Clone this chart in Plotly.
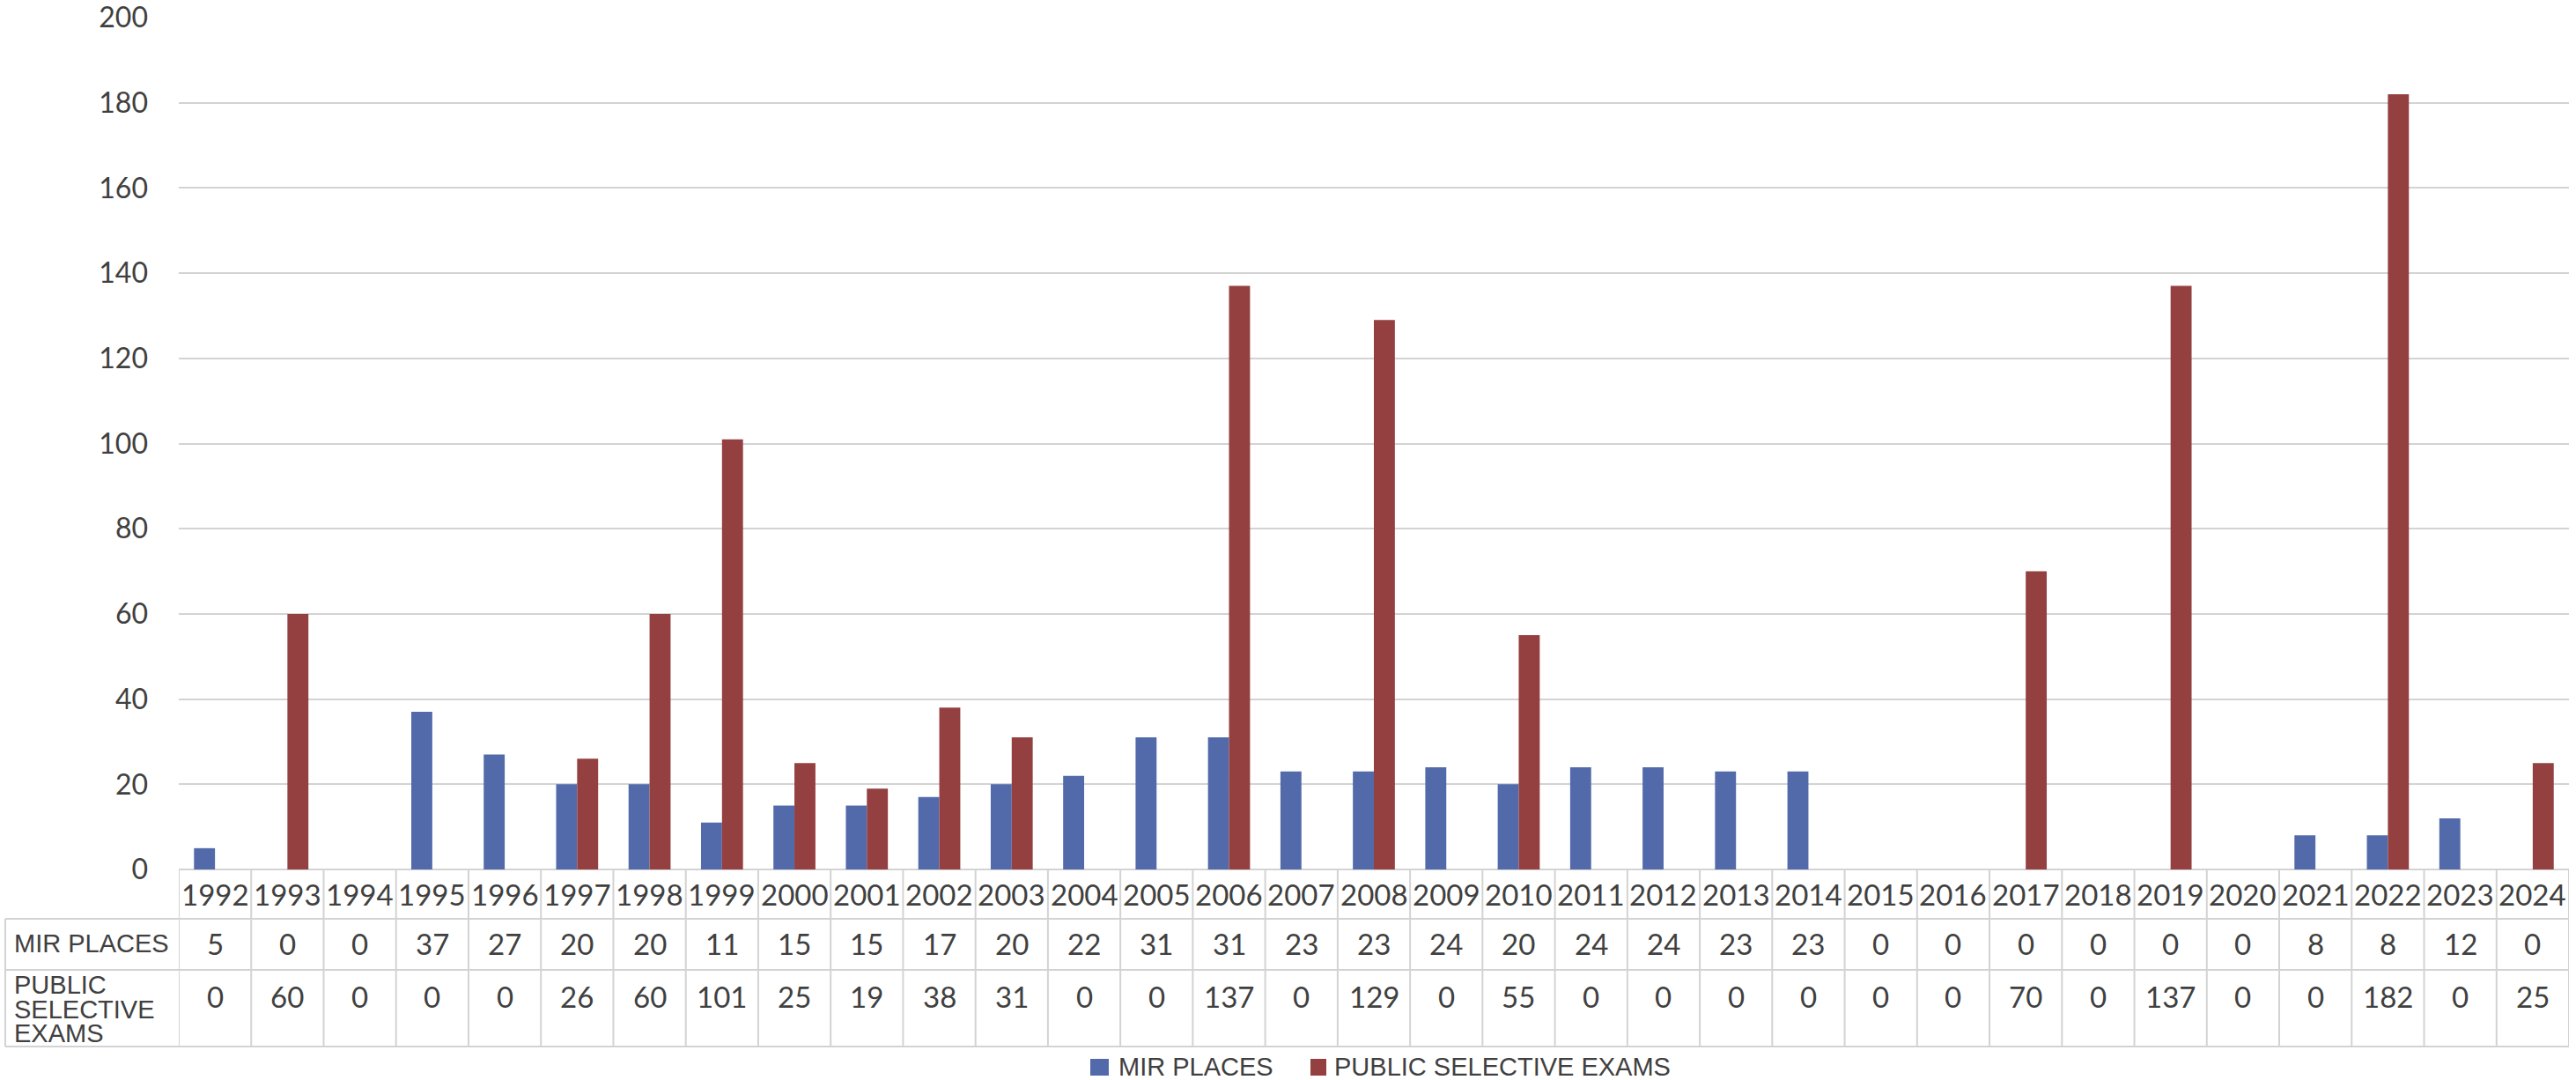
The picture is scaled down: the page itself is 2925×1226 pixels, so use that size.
import plotly.graph_objects as go

years = [str(y) for y in range(1992, 2025)]
mir_places = [5, 0, 0, 37, 27, 20, 20, 11, 15, 15, 17, 20, 22, 31, 31, 23, 23, 24, 20, 24, 24, 23, 23, 0, 0, 0, 0, 0, 0, 8, 8, 12, 0]
public_exams = [0, 60, 0, 0, 0, 26, 60, 101, 25, 19, 38, 31, 0, 0, 137, 0, 129, 0, 55, 0, 0, 0, 0, 0, 0, 70, 0, 137, 0, 0, 182, 0, 25]
series_names = ["MIR PLACES", "PUBLIC SELECTIVE EXAMS"]
y_ticks = [0, 20, 40, 60, 80, 100, 120, 140, 160, 180, 200]

BLUE = "rgb(82,106,170)"
RED = "rgb(148,63,64)"
GRID = "#D3D3D3"
TXT = "#404040"
NUM_FONT = "Lato"
LBL_FONT = "Liberation Sans"

W, H = 2925, 1226
# plot area in window pixels
PL, PR, PT, PB = 203, 2917, 20, 987
L, T = PL, PT
R = W - PR
B = H - PB
plot_h = PB - PT
plot_w = PR - PL


def py(p):  # window pixel y -> paper y
    return (PB - p) / plot_h


def px(p):  # window pixel x -> paper x
    return (p - PL) / plot_w


x_idx = list(range(len(years)))

fig = go.Figure()
fig.add_trace(go.Bar(x=x_idx, y=mir_places, name=series_names[0], marker_color=BLUE, marker_line_width=0))
fig.add_trace(go.Bar(x=x_idx, y=public_exams, name=series_names[1], marker_color=RED, marker_line_width=0))

annotations = []
shapes = []
row_year = py(1015)
row_mir = py(1071)
row_pub = py(1131)
num_font = dict(family=NUM_FONT, size=33, color=TXT)
for i, yr in enumerate(years):
    annotations.append(dict(x=i, y=row_year, xref="x", yref="paper", text=yr, showarrow=False,
                            font=num_font, xanchor="center", yanchor="middle"))
    annotations.append(dict(x=i, y=row_mir, xref="x", yref="paper", text=str(mir_places[i]), showarrow=False,
                            font=num_font, xanchor="center", yanchor="middle"))
    annotations.append(dict(x=i, y=row_pub, xref="x", yref="paper", text=str(public_exams[i]), showarrow=False,
                            font=num_font, xanchor="center", yanchor="middle"))

# row labels
lbl_font = dict(family=LBL_FONT, size=29, color=TXT)
annotations.append(dict(x=px(16), y=row_mir, xref="paper", yref="paper", text=series_names[0], showarrow=False,
                        font=lbl_font, xanchor="left", yanchor="middle", borderpad=0, borderwidth=0))
for j, line in enumerate(["PUBLIC", "SELECTIVE", "EXAMS"]):
    annotations.append(dict(x=px(16), y=py(1118 + 27.5 * j), xref="paper", yref="paper", text=line, showarrow=False,
                            font=lbl_font, xanchor="left", yanchor="middle", borderpad=0, borderwidth=0))

# table lines
line_style = dict(color=GRID, width=2)
for k in range(len(years) + 1):
    shapes.append(dict(type="line", xref="x", yref="paper", x0=k - 0.5, x1=k - 0.5,
                       y0=py(987), y1=py(1188), line=line_style))
for yy in [1043, 1101, 1188]:
    shapes.append(dict(type="line", xref="paper", yref="paper", x0=px(6), x1=1,
                       y0=py(yy), y1=py(yy), line=line_style))
shapes.append(dict(type="line", xref="paper", yref="paper", x0=px(6), x1=px(6),
                   y0=py(1043), y1=py(1188), line=line_style))

# legend (drawn manually to match the square markers)
leg_y = py(1211)
for (x0, x1, tx), name, col in zip([(1238, 1259, 1270), (1488, 1506, 1515)], series_names, [BLUE, RED]):
    shapes.append(dict(type="rect", xref="paper", yref="paper", x0=px(x0), x1=px(x1),
                       y0=py(1221), y1=py(1202), fillcolor=col, line=dict(width=0)))
    annotations.append(dict(x=px(tx), y=leg_y, xref="paper", yref="paper", text=name, showarrow=False,
                            font=lbl_font, xanchor="left", yanchor="middle", borderpad=0, borderwidth=0))

fig.update_layout(
    width=W, height=H,
    margin=dict(l=L, r=R, t=T, b=B, pad=0, autoexpand=False),
    paper_bgcolor="white", plot_bgcolor="white",
    barmode="group", bargap=0.42, bargroupgap=0,
    showlegend=False,
    annotations=annotations,
    shapes=shapes,
    xaxis=dict(range=[-0.5, len(years) - 0.5], showticklabels=False, showgrid=False, zeroline=False,
               showline=False, ticks="", automargin=False),
    yaxis=dict(range=[0, 200], tickvals=y_ticks, showgrid=True, gridcolor=GRID, gridwidth=2,
               zeroline=True, zerolinecolor=GRID, zerolinewidth=2, showline=False, ticks="",
               ticklabelstandoff=34, ticklabeloverflow="allow", automargin=False,
               tickfont=dict(family=NUM_FONT, size=32, color=TXT)),
)

fig.write_html("out.html", config={"displayModeBar": False},
               post_script="document.body.style.margin='0';")
